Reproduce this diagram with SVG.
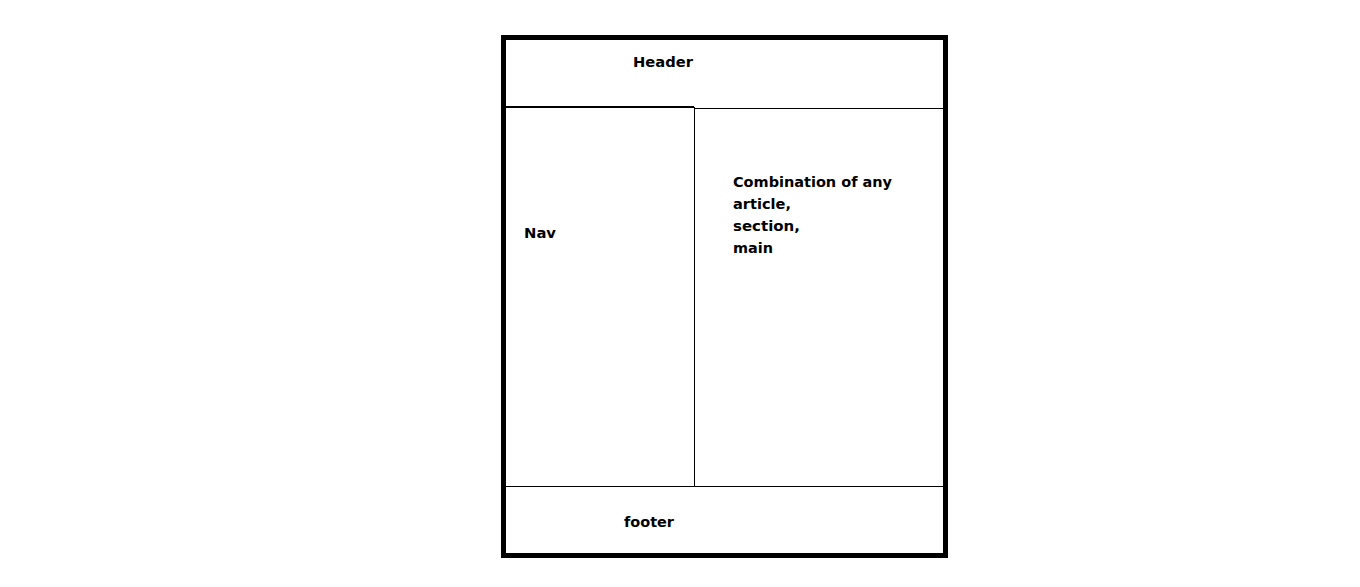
<svg xmlns="http://www.w3.org/2000/svg" width="1360" height="587" viewBox="0 0 1360 587">
<style>
.t{font-family:"DejaVu Sans","Liberation Sans",sans-serif;font-weight:bold;font-size:14px;fill:#000}
.ln{stroke:#000;fill:none}
</style>
<rect width="1360" height="587" fill="#fff"/>
<g id="frame"><rect x="503.5" y="37.5" width="442" height="518" class="ln" stroke-width="5"/></g>
<g id="connectors">
<line x1="506" y1="107" x2="694" y2="107" class="ln" stroke-width="2"/>
<line x1="694" y1="108.5" x2="944" y2="108.5" class="ln" stroke-width="1"/>
<line x1="694.5" y1="107" x2="694.5" y2="486" class="ln" stroke-width="1"/>
<line x1="506" y1="486.5" x2="944" y2="486.5" class="ln" stroke-width="1"/>
</g>
<g id="header"><text class="t" x="633" y="67" textLength="60" lengthAdjust="spacingAndGlyphs">Header</text></g>
<g id="nav"><text class="t" x="524" y="238" textLength="32" lengthAdjust="spacingAndGlyphs">Nav</text></g>
<g id="main"><text class="t" x="733" y="187" textLength="159" lengthAdjust="spacingAndGlyphs">Combination of any</text><text class="t" x="733" y="209" textLength="58" lengthAdjust="spacingAndGlyphs">article,</text><text class="t" x="733" y="231" textLength="67" lengthAdjust="spacingAndGlyphs">section,</text><text class="t" x="733" y="253" textLength="40" lengthAdjust="spacingAndGlyphs">main</text></g>
<g id="footer"><text class="t" x="624" y="527" textLength="50" lengthAdjust="spacingAndGlyphs">footer</text></g>
</svg>
